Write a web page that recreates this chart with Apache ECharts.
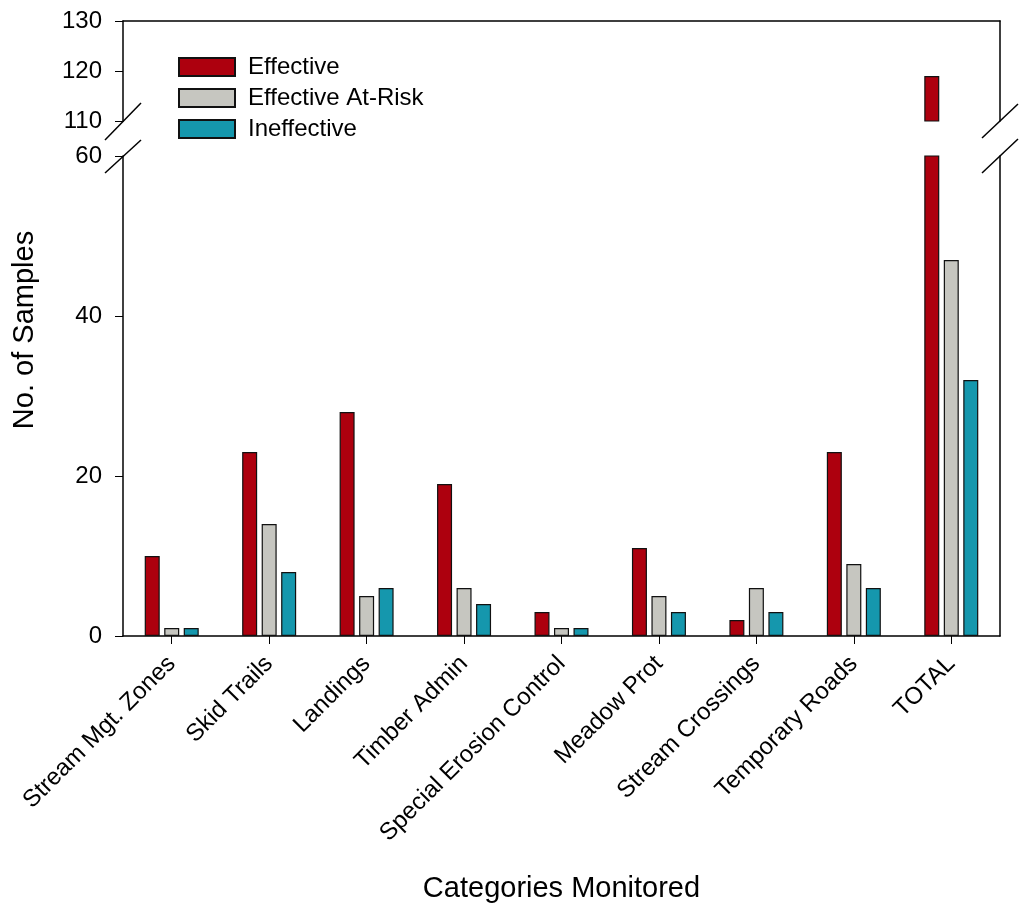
<!DOCTYPE html>
<html>
<head>
<meta charset="utf-8">
<script src="https://cdn.jsdelivr.net/npm/echarts@6/dist/echarts.min.js"></script>
<style>
html,body{margin:0;padding:0;background:#fff;}
#chart{width:1034px;height:909px;}
</style>
</head>
<body>
<div id="chart"></div>
<script>
const categories = ['Stream Mgt. Zones','Skid Trails','Landings','Timber Admin','Special Erosion Control','Meadow Prot','Stream Crossings','Temporary Roads','TOTAL'];
const effective = [10, 23, 28, 19, 3, 11, 2, 23, 119];
const atRisk = [1, 14, 5, 6, 1, 5, 6, 9, 47];
const ineffective = [1, 8, 6, 4, 1, 3, 3, 6, 32];
const lowerTicks = [0, 60, 20];   // min, max, interval
const upperTicks = [110, 130, 10];

const FONT = '"Liberation Sans", Arial, sans-serif';
const colors = { eff: '#ad000e', risk: '#c6c6c0', ineff: '#1597ad' };
const upper = v => (v > upperTicks[0] ? v : '-');

const chart = echarts.init(document.getElementById('chart'));
const blk = '#000';
const barCommon = (name, color) => ({
  name: name, type: 'bar', barWidth: 15, barGap: '30%', clip: true,
  itemStyle: { color: color, borderColor: '#111', borderWidth: 1.2 },
  emphasis: { disabled: true }
});
const slash = (x1, y1, x2, y2) => ({ type: 'line', shape: { x1, y1, x2, y2 }, style: { stroke: blk, lineWidth: 1.5 }, silent: true });

chart.setOption({
  animation: false,
  backgroundColor: '#fff',
  textStyle: { fontFamily: FONT, color: blk },
  legend: {
    orient: 'vertical', left: 178, top: 55, padding: 0,
    itemWidth: 56, itemHeight: 18, itemGap: 7,
    icon: 'rect',
    data: ['Effective', 'Effective At-Risk', 'Ineffective'],
    textStyle: { fontSize: 24, color: blk, fontFamily: FONT, padding: [0, 0, 0, 8] }
  },
  grid: [
    { left: 123, right: 34, top: 21, height: 100 },
    { left: 123, right: 34, top: 156, bottom: 273 }
  ],
  xAxis: [
    { gridIndex: 0, type: 'category', data: categories, position: 'top',
      axisLine: { show: true, lineStyle: { color: blk, width: 1.5 } },
      axisTick: { show: false }, axisLabel: { show: false }, splitLine: { show: false } },
    { gridIndex: 1, type: 'category', data: categories, position: 'bottom',
      axisLine: { show: true, lineStyle: { color: blk, width: 1.5 } },
      axisTick: { show: true, alignWithLabel: true, length: 8, lineStyle: { color: blk } },
      axisLabel: { rotate: 45, fontSize: 24, color: blk, fontFamily: FONT, margin: 24, interval: 0 },
      name: 'Categories Monitored', nameLocation: 'middle', nameGap: 238,
      nameTextStyle: { fontSize: 29, color: blk, fontFamily: FONT } }
  ],
  yAxis: [
    { gridIndex: 0, type: 'value', min: upperTicks[0], max: upperTicks[1], interval: upperTicks[2],
      axisLine: { show: true, lineStyle: { color: blk, width: 1.5 } },
      axisTick: { show: true, length: 8, lineStyle: { color: blk } },
      axisLabel: { fontSize: 24, color: blk, fontFamily: FONT, margin: 21 },
      splitLine: { show: false } },
    { gridIndex: 1, type: 'value', min: lowerTicks[0], max: lowerTicks[1], interval: lowerTicks[2],
      axisLine: { show: true, lineStyle: { color: blk, width: 1.5 } },
      axisTick: { show: true, length: 8, lineStyle: { color: blk } },
      axisLabel: { fontSize: 24, color: blk, fontFamily: FONT, margin: 21 },
      splitLine: { show: false } },
    { gridIndex: 0, type: 'value', position: 'right', min: upperTicks[0], max: upperTicks[1],
      axisLine: { show: true, lineStyle: { color: blk, width: 1.5 } },
      axisTick: { show: false }, axisLabel: { show: false }, splitLine: { show: false } },
    { gridIndex: 1, type: 'value', position: 'right', min: lowerTicks[0], max: lowerTicks[1],
      axisLine: { show: true, lineStyle: { color: blk, width: 1.5 } },
      axisTick: { show: false }, axisLabel: { show: false }, splitLine: { show: false } }
  ],
  series: [
    Object.assign(barCommon('Effective', colors.eff), { xAxisIndex: 1, yAxisIndex: 1, data: effective }),
    Object.assign(barCommon('Effective At-Risk', colors.risk), { xAxisIndex: 1, yAxisIndex: 1, data: atRisk }),
    Object.assign(barCommon('Ineffective', colors.ineff), { xAxisIndex: 1, yAxisIndex: 1, data: ineffective }),
    Object.assign(barCommon('Effective', colors.eff), { xAxisIndex: 0, yAxisIndex: 0, data: effective.map(upper) }),
    Object.assign(barCommon('Effective At-Risk', colors.risk), { xAxisIndex: 0, yAxisIndex: 0, data: atRisk.map(upper) }),
    Object.assign(barCommon('Ineffective', colors.ineff), { xAxisIndex: 0, yAxisIndex: 0, data: ineffective.map(upper) })
  ],
  graphic: [
    slash(105, 140, 141, 103),
    slash(105, 173, 141, 140),
    slash(982, 138, 1018, 104),
    slash(982, 173, 1018, 139),
    { type: 'text', x: 25, y: 330, rotation: Math.PI / 2,
      style: { text: 'No. of Samples', fontSize: 29, fontFamily: FONT, fill: blk, textAlign: 'center', textVerticalAlign: 'middle' } }
  ]
});
</script>
</body>
</html>
